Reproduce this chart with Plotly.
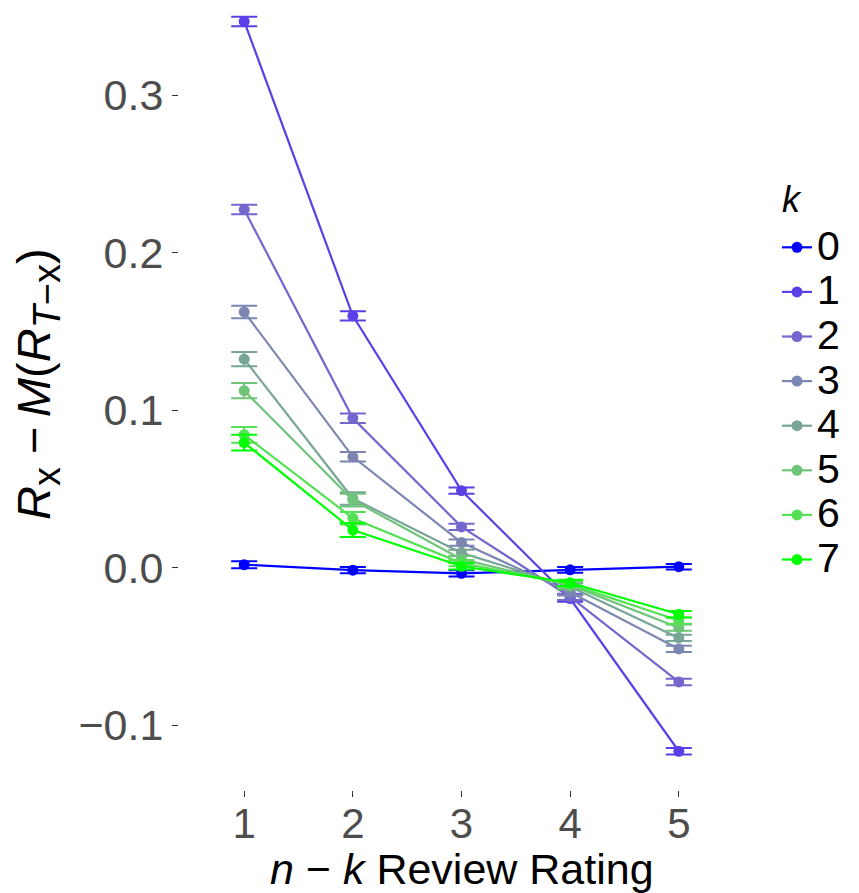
import plotly.graph_objects as go

ratings = [1, 2, 3, 4, 5]
k_labels = ["0", "1", "2", "3", "4", "5", "6", "7"]
colors = ["#0000FF", "#5A40E6", "#7366CC", "#7B86B3", "#78A597", "#70C47A", "#56E056", "#00FF00"]

means = [
    [0.002, -0.0015, -0.0035, -0.0013, 0.0007],
    [0.347, 0.160, 0.049, -0.0195, -0.1165],
    [0.2275, 0.095, 0.026, -0.0185, -0.0725],
    [0.1625, 0.0705, 0.016, -0.0155, -0.0515],
    [0.1325, 0.044, 0.0095, -0.012, -0.0445],
    [0.1125, 0.043, 0.0055, -0.011, -0.038],
    [0.0845, 0.0315, 0.003, -0.0105, -0.0335],
    [0.0795, 0.024, 0.001, -0.0095, -0.0295],
]
errors = [
    [0.0022, 0.002, 0.002, 0.0018, 0.0018],
    [0.003, 0.003, 0.002, 0.002, 0.002],
    [0.003, 0.003, 0.002, 0.002, 0.002],
    [0.004, 0.003, 0.002, 0.002, 0.002],
    [0.0045, 0.004, 0.002, 0.002, 0.002],
    [0.0048, 0.004, 0.002, 0.002, 0.002],
    [0.005, 0.004, 0.002, 0.002, 0.002],
    [0.005, 0.0045, 0.002, 0.002, 0.002],
]

y_ticks = [-0.1, 0.0, 0.1, 0.2, 0.3]
y_ticktext = ["\u22120.1", "0.0", "0.1", "0.2", "0.3"]

FONT = "Liberation Sans, Arial, Helvetica, sans-serif"
W, H = 859, 893
ML, MR, MT, MB = 179, 115, 0, 103
PW = W - ML - MR
PH = H - MT - MB

fig = go.Figure()
for lab, col, m, e in zip(k_labels, colors, means, errors):
    fig.add_trace(go.Scatter(
        x=ratings, y=m, mode="lines+markers",
        name='<span style="font-size:41px">' + lab + "</span>",
        line=dict(color=col, width=2.2),
        marker=dict(color=col, size=11),
        error_y=dict(type="data", array=e, visible=True, color=col, thickness=2, width=13),
    ))

sub = '<sub><span style="font-size:38px">{}</span></sub>'
y_title = ("<i>R</i>" + sub.format("x") + " \u2212\u2009<i>M</i>(<i>R</i>"
           + sub.format("<i>T</i>\u2212x") + ")")

fig.update_layout(
    width=W, height=H,
    margin=dict(l=ML, r=MR, t=MT, b=MB, autoexpand=False),
    paper_bgcolor="white", plot_bgcolor="white",
    font=dict(family=FONT, color="black"),
    showlegend=True,
    legend=dict(
        font=dict(size=32, family=FONT, color="black"),
        x=1.0584, xanchor="left", y=0.7215, yanchor="top",
        tracegroupgap=0, itemwidth=30,
    ),
    xaxis=dict(
        range=[0.4, 5.6], tickvals=ratings, ticktext=[str(r) for r in ratings],
        showgrid=False, zeroline=False, showline=False, automargin=False,
        ticks="outside", ticklen=6, tickwidth=1, tickcolor="#333333",
        tickfont=dict(size=42, color="#4D4D4D", family=FONT),
        ticklabelstandoff=-9,
    ),
    yaxis=dict(
        range=[-0.1411, 0.3606], tickvals=y_ticks, ticktext=y_ticktext,
        showgrid=False, zeroline=False, showline=False, automargin=False,
        ticks="outside", ticklen=6, tickwidth=1, tickcolor="#333333",
        tickfont=dict(size=43, color="#4D4D4D", family=FONT),
    ),
    annotations=[
        dict(text="<i>k</i>", xref="paper", yref="paper",
             x=(792 - ML) / PW, y=(PH - 199) / PH, xanchor="center", yanchor="middle",
             showarrow=False, font=dict(size=36, color="black", family=FONT)),
        dict(text="<i>n</i> \u2212 <i>k</i> Review Rating", xref="paper", yref="paper",
             x=(462 - ML) / PW, y=-(869 - PH) / PH, xanchor="center", yanchor="middle",
             showarrow=False, font=dict(size=43, color="black", family=FONT)),
        dict(text=y_title,
             xref="paper", yref="paper", textangle=-90,
             x=(37 - ML) / PW, y=(PH - 384) / PH, xanchor="center", yanchor="middle",
             showarrow=False, font=dict(size=47, color="black", family=FONT)),
    ],
)

fig.write_html("out.html", config={"displayModeBar": False},
               post_script="document.body.style.margin='0';document.body.style.overflow='hidden';")
